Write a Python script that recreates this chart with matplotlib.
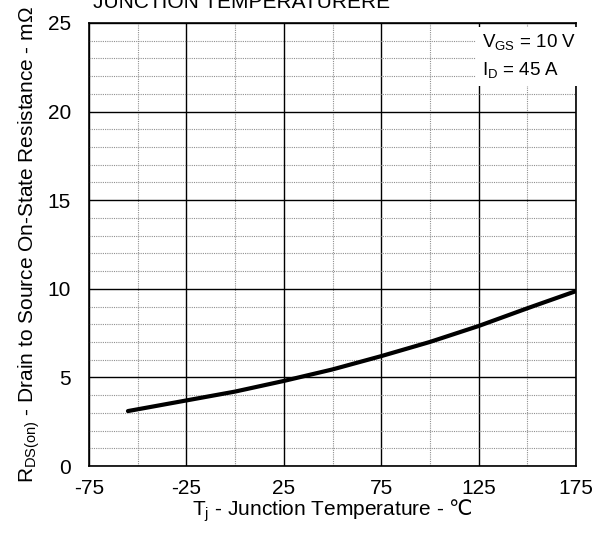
import matplotlib
matplotlib.use("Agg")
import matplotlib.pyplot as plt
from matplotlib.ticker import MultipleLocator

# data
temp_c = [-55, -25, 0, 25, 50, 75, 100, 125, 150, 175]
rds_on = [3.1, 3.7, 4.2, 4.8, 5.45, 6.2, 7.0, 7.9, 8.9, 9.87]
x_ticks = [-75, -25, 25, 75, 125, 175]
y_ticks = [0, 5, 10, 15, 20, 25]

plt.rcParams["font.family"] = ["Liberation Sans", "DejaVu Sans"]
plt.rcParams["axes.unicode_minus"] = False
# the degree-Celsius sign is missing from Liberation Sans, take it from DejaVu
plt.rcParams["mathtext.fontset"] = "custom"
plt.rcParams["mathtext.rm"] = "DejaVu Sans"

W, H = 607, 533
fig = plt.figure(figsize=(W / 100, H / 100), dpi=100)
ax = fig.add_axes([89 / W, 1 - 466 / H, (576 - 89) / W, (466 - 23) / H])

ax.plot(temp_c, rds_on, color="black", lw=3, solid_capstyle="round", zorder=4)

ax.set_xlim(-75, 175)
ax.set_ylim(0, 25)
ax.set_xticks(x_ticks)
ax.set_yticks(y_ticks)
ax.xaxis.set_minor_locator(MultipleLocator(25))
ax.yaxis.set_minor_locator(MultipleLocator(1))
ax.grid(True, which="major", color="black", lw=1, zorder=1)
ax.grid(True, which="minor", color="#909090", lw=0.8, ls=(0, (1, 1)), zorder=1)
ax.tick_params(which="both", length=0, labelsize=15, colors="black")
ax.tick_params(axis="x", pad=9)
ax.tick_params(axis="y", pad=13)
for sp in ax.spines.values():
    sp.set_linewidth(1.2)
ax.set_axisbelow(True)

ax.set_xlabel(r"T$_\mathregular{j}$ - Junction Temperature - $\mathrm{℃}$",
              fontsize=15, labelpad=0)
ax.set_ylabel(r"R$_\mathregular{DS(on)}$ - Drain to Source On-State Resistance - m$\mathregular{\Omega}$",
              fontsize=15, labelpad=4)

ax.text(126.8, 23.1, "V$_\\mathregular{GS}$ = 10 V\nI$_\\mathregular{D}$ = 45 A",
        ha="left", va="center", fontsize=13.5, linespacing=1.5,
        bbox=dict(facecolor="white", edgecolor="none", pad=4), zorder=5)

fig.text(93 / W, 1 - 8 / H, "JUNCTION TEMPERATURERE", fontsize=15,
         ha="left", va="baseline")

fig.savefig("out.png", dpi=100)
